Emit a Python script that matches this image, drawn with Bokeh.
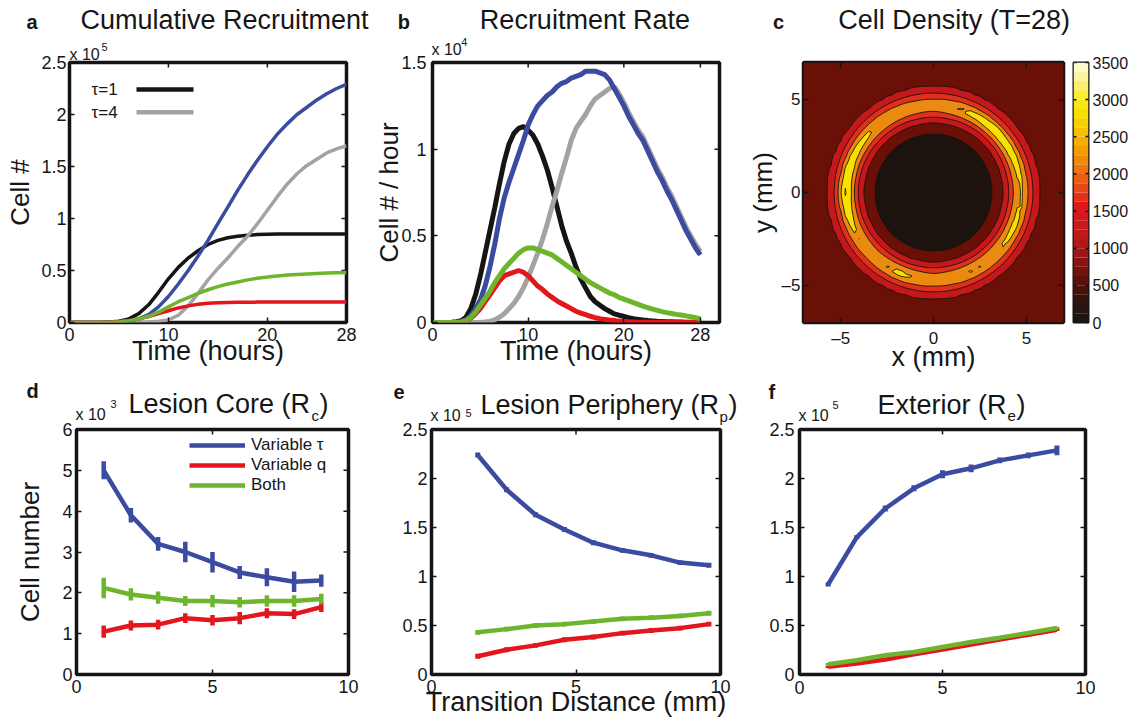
import numpy as np
from bokeh.plotting import figure
from bokeh.models import (Range1d, FixedTicker, Label, CustomJSTickFormatter, Legend, LegendItem)
from bokeh.layouts import row, column
from bokeh.embed import file_html
from bokeh.resources import INLINE

FONT = "Liberation Sans"
TXT = "#161616"
BLUE = "#3b4ba0"
RED = "#e3161e"
GREEN = "#6cb52d"
GRAY = "#a3a3a3"
BLACK = "#151515"

# ---------------- data: (a) cumulative recruitment, x 10^5 cells ----------------
hours_a = list(range(29))
cum_tau1 = [0, 0, 0, 0.001, 0.004, 0.012, 0.035, 0.085, 0.17, 0.29, 0.42, 0.53, 0.62, 0.69, 0.75,
            0.79, 0.815, 0.83, 0.84, 0.845, 0.848, 0.85, 0.85, 0.85, 0.85, 0.85, 0.85, 0.85, 0.85]
cum_tau4 = [0, 0, 0, 0, 0, 0, 0.001, 0.002, 0.005, 0.012, 0.025, 0.07, 0.16, 0.28, 0.41,
            0.52, 0.62, 0.73, 0.83, 0.95, 1.08, 1.21, 1.33, 1.43, 1.51, 1.57, 1.63, 1.67, 1.70]
cum_var_tau = [0, 0, 0, 0.001, 0.002, 0.006, 0.015, 0.035, 0.075, 0.15, 0.25, 0.37, 0.5, 0.64, 0.79,
               0.95, 1.11, 1.27, 1.42, 1.56, 1.69, 1.81, 1.91, 2.0, 2.07, 2.14, 2.2, 2.25, 2.29]
cum_var_q = [0, 0, 0, 0.001, 0.003, 0.008, 0.018, 0.035, 0.058, 0.085, 0.113, 0.14, 0.16, 0.175, 0.184,
             0.189, 0.192, 0.194, 0.195, 0.196, 0.197, 0.197, 0.198, 0.198, 0.198, 0.198, 0.198, 0.198, 0.198]
cum_both = [0, 0, 0, 0.001, 0.003, 0.008, 0.018, 0.035, 0.06, 0.1, 0.15, 0.2, 0.24, 0.28, 0.315,
            0.345, 0.37, 0.39, 0.41, 0.425, 0.438, 0.448, 0.456, 0.462, 0.467, 0.471, 0.475, 0.478, 0.48]

# ---------------- data: (b) recruitment rate, x 10^4 cells / hour ----------------
hours_b = [i * 0.5 for i in range(57)]
rate_tau1 = [0, 0, 0, 0, 0.002, 0.005, 0.01, 0.03, 0.08, 0.16,
             0.27, 0.40, 0.53, 0.66, 0.80, 0.93, 1.03, 1.09, 1.12, 1.13,
             1.11, 1.08, 1.03, 0.96, 0.88, 0.78, 0.67, 0.56, 0.47, 0.40,
             0.32, 0.25, 0.20, 0.15, 0.12, 0.10, 0.08, 0.065, 0.05, 0.042,
             0.035, 0.028, 0.022, 0.018, 0.014, 0.011, 0.009, 0.007, 0.006, 0.005,
             0.004, 0.003, 0.003, 0.002, 0.002, 0.001, 0.001]
rate_tau4 = [0, 0, 0, 0, 0, 0, 0, 0, 0, 0,
             0.001, 0.003, 0.006, 0.015, 0.03, 0.05, 0.08, 0.11, 0.15, 0.20,
             0.26, 0.33, 0.40, 0.48, 0.57, 0.67, 0.76, 0.86, 0.95, 1.05,
             1.12, 1.16, 1.20, 1.25, 1.29, 1.31, 1.33, 1.35, 1.36, 1.32,
             1.27, 1.21, 1.16, 1.11, 1.07, 1.01, 0.95, 0.89, 0.84, 0.78,
             0.73, 0.67, 0.61, 0.55, 0.50, 0.45, 0.41]
rate_var_tau = [0, 0, 0, 0, 0, 0.002, 0.005, 0.015, 0.04, 0.08,
                0.13, 0.21, 0.32, 0.45, 0.60, 0.72, 0.81, 0.89, 0.97, 1.05,
                1.14, 1.20, 1.25, 1.28, 1.31, 1.33, 1.36, 1.38, 1.39, 1.41,
                1.42, 1.43, 1.45, 1.45, 1.45, 1.44, 1.43, 1.40, 1.35, 1.30,
                1.25, 1.19, 1.14, 1.09, 1.05, 0.99, 0.93, 0.87, 0.82, 0.76,
                0.71, 0.65, 0.59, 0.53, 0.48, 0.43, 0.39]
rate_var_q = [0, 0, 0, 0, 0, 0, 0.003, 0.01, 0.025, 0.05,
              0.08, 0.12, 0.16, 0.20, 0.24, 0.27, 0.28, 0.29, 0.30, 0.29,
              0.27, 0.24, 0.21, 0.19, 0.165, 0.145, 0.125, 0.11, 0.095, 0.08,
              0.065, 0.054, 0.045, 0.036, 0.028, 0.022, 0.018, 0.014, 0.011, 0.008,
              0.006, 0.004, 0.003, 0.002, 0.002, 0.002, 0.001, 0.001, 0.001, 0.001,
              0.001, 0.001, 0, 0, 0, 0, 0]
rate_both = [0, 0, 0, 0, 0, 0, 0.003, 0.01, 0.03, 0.06,
             0.10, 0.14, 0.18, 0.23, 0.27, 0.31, 0.34, 0.37, 0.40, 0.42,
             0.43, 0.43, 0.42, 0.41, 0.40, 0.39, 0.37, 0.35, 0.33, 0.31,
             0.29, 0.27, 0.25, 0.23, 0.215, 0.20, 0.185, 0.17, 0.16, 0.145,
             0.135, 0.125, 0.115, 0.105, 0.095, 0.085, 0.077, 0.07, 0.063, 0.057,
             0.052, 0.047, 0.043, 0.038, 0.033, 0.028, 0.022]

ring_radius_mm = [0, 1, 2, 2.6, 3.0, 3.2, 3.45, 3.75, 3.95, 4.2, 4.45, 4.7, 4.95, 5.15, 5.35, 5.7, 6.1, 6.6, 7.5, 10.5]
ring_density = [150, 150, 200, 300, 420, 520, 700, 1000, 1300, 1800, 2200, 2400, 2200, 1800, 1500, 1000, 800, 720, 700, 700]
ring_peak_weight = [0, 0, 0, 0, 0, 0, 0, 0, 0, 0, 0.6, 1, 0.6, 0, 0, 0, 0, 0, 0, 0]
peak_angle_deg = [0, 22.5, 45, 67.5, 90, 112.5, 135, 157.5, 180, 202.5, 225, 247.5, 270, 292.5, 315, 337.5]
peak_density = [2600, 2750, 2850, 2650, 2250, 2400, 2600, 2800, 3150, 2650, 2350, 2700, 2300, 2550, 2550, 2700]
density_levels = [0, 500, 1000, 1500, 2000, 2500, 3000, 3500]
band_colors = ["#1c130e", "#6a1006", "#c4181a", "#e0301c", "#ea8a10", "#f8e000", "#fcec6c"]
cbar_anchor_values = [0, 250, 500, 750, 1000, 1250, 1500, 1750, 2000, 2250, 2500, 2750, 3000, 3250, 3500]
cbar_anchor_colors = ["#1e1510", "#32140f", "#5a1108", "#8a1212", "#b31818", "#cc1a1a", "#e0161a", "#e84818",
                      "#ee7412", "#f49c04", "#f8c000", "#f9de00", "#fbec34", "#fdf4a0", "#fffff2"]

# ---------------- data: (d,e,f) cell numbers vs transition distance ----------------
dist_d = [1, 2, 3, 4, 5, 6, 7, 8, 9]
core_var_tau = [5.0, 3.9, 3.2, 3.0, 2.75, 2.5, 2.38, 2.27, 2.3]
core_var_tau_err = [0.22, 0.18, 0.17, 0.25, 0.25, 0.16, 0.22, 0.25, 0.15]
core_var_q = [1.05, 1.2, 1.22, 1.38, 1.33, 1.38, 1.5, 1.48, 1.65]
core_var_q_err = [0.15, 0.12, 0.12, 0.12, 0.13, 0.15, 0.12, 0.12, 0.12]
core_both = [2.12, 1.96, 1.88, 1.8, 1.8, 1.77, 1.8, 1.8, 1.85]
core_both_err = [0.25, 0.15, 0.15, 0.12, 0.15, 0.13, 0.14, 0.14, 0.13]

dist_e = [1.6, 2.6, 3.6, 4.6, 5.6, 6.6, 7.6, 8.6, 9.6]
peri_var_tau = [2.24, 1.885, 1.63, 1.48, 1.345, 1.267, 1.216, 1.142, 1.115]
peri_var_q = [0.186, 0.253, 0.297, 0.355, 0.382, 0.422, 0.449, 0.473, 0.514]
peri_both = [0.43, 0.463, 0.5, 0.514, 0.54, 0.568, 0.58, 0.598, 0.625]
peri_err = [0.025, 0.025, 0.025, 0.025, 0.025, 0.025, 0.025, 0.025, 0.025]

dist_f = [1, 2, 3, 4, 5, 6, 7, 8, 9]
ext_var_tau = [0.918, 1.4, 1.694, 1.9, 2.043, 2.104, 2.185, 2.236, 2.287]
ext_var_tau_err = [0.02, 0.02, 0.03, 0.03, 0.04, 0.04, 0.03, 0.03, 0.05]
ext_var_q = [0.078, 0.112, 0.152, 0.207, 0.254, 0.305, 0.356, 0.406, 0.457]
ext_both = [0.105, 0.146, 0.196, 0.23, 0.281, 0.332, 0.376, 0.423, 0.474]
ext_small_err = [0.012, 0.012, 0.012, 0.012, 0.012, 0.012, 0.012, 0.012, 0.012]


# ---------------- helpers ----------------
class Panel:
    def __init__(self, ox, oy, W, H, fl, ft, fw, fh, xr, yr, **kw):
        self.fl, self.ft, self.fw, self.fh = fl, ft, fw, fh
        self.xr, self.yr = xr, yr
        self.p = figure(width=W, height=H, x_range=Range1d(*xr), y_range=Range1d(*yr),
                        output_backend="svg", toolbar_location=None,
                        min_border_left=fl - ox, min_border_right=W - (fl - ox) - fw,
                        min_border_top=ft - oy, min_border_bottom=H - (ft - oy) - fh, **kw)
        self.p.xgrid.visible = False
        self.p.ygrid.visible = False
        self.p.outline_line_color = "#141414"
        self.p.outline_line_width = 3.5
        self.p.background_fill_color = "white"
        self.p.border_fill_color = "white"

    def dx(self, px):
        return self.xr[0] + (px - self.fl) / self.fw * (self.xr[1] - self.xr[0])

    def dy(self, py):
        return self.yr[1] - (py - self.ft) / self.fh * (self.yr[1] - self.yr[0])

    def text(self, px, py, s, size, side="center", align="left", mid=False, bold=False):
        # py is the text baseline (or its middle when mid=True); labels are anchored at their middle
        ymid = py if mid else py - 0.35 * size
        self.p.add_layout(Label(x=self.dx(px), y=self.dy(ymid), text=s, text_font=FONT,
                                text_font_size=f"{size}px", text_align=align, text_baseline="middle",
                                text_font_style="bold" if bold else "normal", text_color=TXT), side)

    def axis_label(self, which, s, size, standoff):
        ax = self.p.below[0] if which == "x" else self.p.left[0]
        ax.axis_label = s
        ax.axis_label_text_font = FONT
        ax.axis_label_text_font_size = f"{size}px"
        ax.axis_label_text_font_style = "normal"
        ax.axis_label_text_color = TXT
        ax.axis_label_standoff = standoff


FMT_CODE = "var s = (Math.round(tick * 1000) / 1000).toString(); return s.replace('-', '\\u2013');"


def axis_common(ax, fs, stand, tick_in=5):
    ax.axis_line_color = None
    ax.major_tick_line_color = "#141414"
    ax.major_tick_line_width = 1.5
    ax.major_tick_in = tick_in
    ax.major_tick_out = 0
    ax.minor_tick_line_color = None
    ax.major_label_text_font = FONT
    ax.major_label_text_color = TXT
    ax.major_label_text_font_size = f"{fs}px"
    ax.major_label_standoff = stand


def style_axes(pn, xticks, yticks, fs=18, xstand=5, ystand=3):
    p = pn.p
    xa = p.below[0]
    xa.ticker = FixedTicker(ticks=xticks)
    xa.formatter = CustomJSTickFormatter(code=FMT_CODE)
    axis_common(xa, fs, xstand)
    ya = p.left[0]
    ya.ticker = FixedTicker(ticks=yticks)
    ya.formatter = CustomJSTickFormatter(code=FMT_CODE)
    axis_common(ya, fs, ystand)
    # tick marks on the top and right edges of the box (MATLAB style), 5 px inward
    p.ray(x=xticks, y=[pn.yr[1]] * len(xticks), length=5, length_units="screen",
          angle=-np.pi / 2, line_color="#141414", line_width=1.5)
    p.ray(x=[pn.xr[1]] * len(yticks), y=yticks, length=5, length_units="screen",
          angle=np.pi, line_color="#141414", line_width=1.5)


def lo(vals, errs):
    return [v - e for v, e in zip(vals, errs)]


def hi(vals, errs):
    return [v + e for v, e in zip(vals, errs)]


H1 = 374
H2 = 719 - H1

# ---------------- panel a ----------------
pa = Panel(0, 0, 371, H1, 69, 62, 277, 261, (0, 28), (0, 2.5))
style_axes(pa, [0, 10, 20, 28], [0, 0.5, 1, 1.5, 2, 2.5])
for ys, col in ((cum_tau1, BLACK), (cum_tau4, GRAY), (cum_var_tau, BLUE), (cum_var_q, RED), (cum_both, GREEN)):
    pa.p.line(hours_a, ys, line_color=col, line_width=3.5)
pa.p.line([pa.dx(136), pa.dx(193)], [pa.dy(89)] * 2, line_color=BLACK, line_width=4.5)
pa.p.line([pa.dx(136), pa.dx(193)], [pa.dy(112)] * 2, line_color=GRAY, line_width=4.5)
pa.text(91, 89, "\u03c4=1", 17, mid=True)
pa.text(91, 112, "\u03c4=4", 17, mid=True)
pa.text(224, 29, "Cumulative Recruitment", 27, side="above", align="center")
pa.text(69, 60, "x 10", 16, side="above")
pa.text(101, 50, "5", 11, side="right")
pa.text(26, 28, "a", 20, side="right", bold=True)
pa.axis_label("x", "Time (hours)", 27, -8)
pa.axis_label("y", "Cell #", 26, 3)

# ---------------- panel b ----------------
pb = Panel(371, 0, 373, H1, 429, 62, 290, 261, (0, 30), (0, 1.5))
style_axes(pb, [0, 10, 20, 28], [0, 0.5, 1, 1.5], ystand=6)
for ys, col in ((rate_tau1, BLACK), (rate_tau4, GRAY), (rate_var_tau, BLUE), (rate_var_q, RED), (rate_both, GREEN)):
    pb.p.line(hours_b, ys, line_color=col, line_width=5)
pb.text(583, 29, "Recruitment Rate", 27, side="above", align="center")
pb.text(428, 55, "x 10", 16, side="above")
pb.text(458, 45, "4", 11, side="right")
pb.text(394, 28, "b", 20, side="right", bold=True)
pb.axis_label("x", "Time (hours)", 27, -8)
pb.axis_label("y", "Cell # / hour", 26, -6)

# ---------------- panel c ----------------
pc = Panel(744, 0, 326, H1, 799, 62, 264, 262, (-7, 7), (-7, 7))
style_axes(pc, [-5, 0, 5], [-5, 0, 5], fs=17, xstand=6, ystand=3)
pc.p.background_fill_color = band_colors[1]
xs = np.linspace(-7, 7, 57)
ys = np.linspace(-7, 7, 57)
X, Y = np.meshgrid(xs, ys)
R = np.hypot(X, Y)
TH = np.degrees(np.arctan2(Y, X)) % 360
Z = (np.interp(R, ring_radius_mm, ring_density)
     + (np.interp(TH, peak_angle_deg, peak_density, period=360) - 2400)
     * np.interp(R, ring_radius_mm, ring_peak_weight))
pc.p.contour(x=xs, y=ys, z=Z, levels=density_levels, fill_color=band_colors,
             line_color="#101010", line_width=0.8)
pc.p.ray(x=[-5, 0, 5], y=[7] * 3, length=5, length_units="screen", angle=-np.pi / 2, line_color="#141414", line_width=1.5)
pc.p.ray(x=[7] * 3, y=[-5, 0, 5], length=5, length_units="screen", angle=np.pi, line_color="#141414", line_width=1.5)
pc.text(952, 29, "Cell Density (T=28)", 27, side="above", align="center")
pc.text(768, 28, "c", 20, side="above", bold=True)
pc.axis_label("x", "x (mm)", 27, -9)
pc.axis_label("y", "y (mm)", 26, 1)

# ---------------- colour bar ----------------
pcb = Panel(1070, 0, 62, H1, 1073, 62, 15, 263, (0, 1), (0, 3500),
            x_axis_location=None, y_axis_location="right")
pcb.p.outline_line_width = 2
cb_edges = np.linspace(0, 3500, 29)


def hex2rgb(h):
    return [int(h[i:i + 2], 16) for i in (1, 3, 5)]


anchor_rgb = np.array([hex2rgb(c) for c in cbar_anchor_colors], dtype=float)
cb_cols = []
for v in cb_edges[:-1]:
    rgb = [int(round(np.interp(v, cbar_anchor_values, anchor_rgb[:, k]))) for k in range(3)]
    cb_cols.append("#%02x%02x%02x" % tuple(rgb))
pcb.p.quad(left=0, right=1, bottom=cb_edges[:-1], top=cb_edges[1:], fill_color=cb_cols, line_color=None)
cb_ticks = list(range(0, 3501, 500))
cya = pcb.p.right[0]
cya.ticker = FixedTicker(ticks=cb_ticks)
axis_common(cya, 16, 4, tick_in=3)
pcb.p.ray(x=[0] * len(cb_ticks), y=cb_ticks, length=3, length_units="screen", angle=0,
          line_color="#141414", line_width=1.5)

# ---------------- panel d ----------------
pd_ = Panel(0, H1, 380, H2, 76, 429, 272, 246, (0, 10), (0, 6))
style_axes(pd_, [0, 5, 10], [0, 1, 2, 3, 4, 5, 6], ystand=4, xstand=5)
rends = []
for vals, errs, col in ((core_var_tau, core_var_tau_err, BLUE), (core_var_q, core_var_q_err, RED),
                        (core_both, core_both_err, GREEN)):
    r = pd_.p.line(dist_d, vals, line_color=col, line_width=4.5)
    pd_.p.segment(x0=dist_d, y0=lo(vals, errs), x1=dist_d, y1=hi(vals, errs), line_color=col, line_width=4.5)
    rends.append(r)
leg = Legend(items=[LegendItem(label="Variable \u03c4", renderers=[rends[0]]),
                    LegendItem(label="Variable q", renderers=[rends[1]]),
                    LegendItem(label="Both", renderers=[rends[2]])],
             location=(113, 179), border_line_color=None, background_fill_alpha=0,
             label_text_font=FONT, label_text_font_size="17px", label_text_color=TXT,
             glyph_width=56, glyph_height=18, label_height=18, spacing=0, padding=0, margin=0,
             label_standoff=6)
pd_.p.add_layout(leg)
pd_.text(128, 413, "Lesion Core (R", 27, side="above")
pd_.text(75, 420, "x 10", 16, side="above")
pd_.text(311, 420, "c", 15, side="right")
pd_.text(319, 413, ")", 27, side="right")
pd_.text(110, 407, "3", 11, side="right")
pd_.text(26, 397, "d", 20, side="left", bold=True)
pd_.axis_label("y", "Cell number", 26, 14)

# ---------------- panel e ----------------
pe = Panel(380, H1, 380, H2, 431, 428, 289, 246, (0, 10), (0, 2.5))
style_axes(pe, [0, 5, 10], [0, 0.5, 1, 1.5, 2, 2.5], ystand=4, xstand=5)
for vals, col in ((peri_var_tau, BLUE), (peri_var_q, RED), (peri_both, GREEN)):
    pe.p.line(dist_e, vals, line_color=col, line_width=4.5)
    pe.p.segment(x0=dist_e, y0=lo(vals, peri_err), x1=dist_e, y1=hi(vals, peri_err), line_color=col, line_width=5)
pe.text(480, 413, "Lesion Periphery (R", 27, side="above")
pe.text(430, 420, "x 10", 16, side="above")
pe.text(719, 420, "p", 15, side="right")
pe.text(728, 413, ")", 27, side="right")
pe.text(465, 415, "5", 11, side="right")
pe.text(393, 397, "e", 20, side="right", bold=True)
pe.axis_label("x", "Transition Distance (mm)", 27, -9)

# ---------------- panel f ----------------
pf = Panel(760, H1, 372, H2, 799, 428, 286, 246, (0, 10), (0, 2.5))
style_axes(pf, [0, 5, 10], [0, 0.5, 1, 1.5, 2, 2.5], ystand=5, xstand=6)
for vals, errs, col in ((ext_var_tau, ext_var_tau_err, BLUE), (ext_var_q, ext_small_err, RED),
                        (ext_both, ext_small_err, GREEN)):
    pf.p.line(dist_f, vals, line_color=col, line_width=4.5)
    pf.p.segment(x0=dist_f, y0=lo(vals, errs), x1=dist_f, y1=hi(vals, errs), line_color=col, line_width=5)
pf.text(877, 413, "Exterior (R", 27, side="above")
pf.text(798, 420, "x 10", 16, side="above")
pf.text(1007, 420, "e", 15, side="right")
pf.text(1016, 413, ")", 27, side="right")
pf.text(832, 407, "5", 11, side="right")
pf.text(768, 397, "f", 20, side="right", bold=True)

layout = column(row(pa.p, pb.p, pc.p, pcb.p), row(pd_.p, pe.p, pf.p))
open("out.html", "w").write(file_html(layout, INLINE))
